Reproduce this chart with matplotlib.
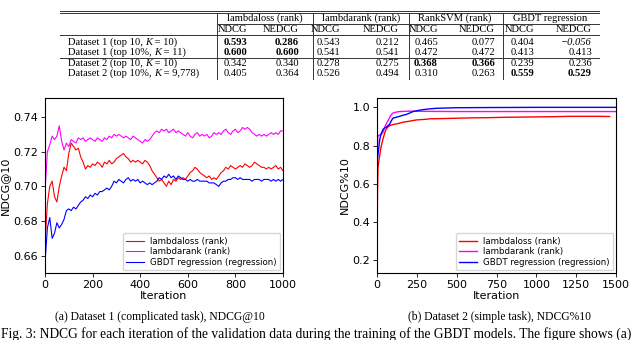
import numpy as np
import matplotlib
matplotlib.use('Agg')
import matplotlib.pyplot as plt
from matplotlib.lines import Line2D

plt.rcParams['axes.linewidth'] = 0.8

W, H = 640, 340
SERIF = 'Liberation Serif'

# ---- table data ----
groups = ['lambdaloss (rank)', 'lambdarank (rank)', 'RankSVM (rank)', 'GBDT regression']
sub_cols = ['NDCG', 'NEDCG']
# the K in each label is set in italic
row_labels = ['Dataset 1 (top 10, K = 10)',
              'Dataset 1 (top 10%, K = 11)',
              'Dataset 2 (top 10, K = 10)',
              'Dataset 2 (top 10%, K = 9,778)']
table_vals = [
    [0.593, 0.286, 0.543, 0.212, 0.465, 0.077, 0.404, -0.056],
    [0.600, 0.600, 0.541, 0.541, 0.472, 0.472, 0.413, 0.413],
    [0.342, 0.340, 0.278, 0.275, 0.368, 0.366, 0.239, 0.236],
    [0.405, 0.364, 0.526, 0.494, 0.310, 0.263, 0.559, 0.529],
]

# ---- (a) dataset 1, NDCG@10 ----
it1 = np.arange(0, 1001, 10)
lambdaloss_1 = [
    0.667, 0.690, 0.700, 0.703, 0.694, 0.691, 0.700, 0.706, 0.711, 0.709,
    0.719, 0.725, 0.723, 0.721, 0.722, 0.717, 0.714, 0.710, 0.712, 0.711,
    0.713, 0.712, 0.714, 0.713, 0.711, 0.714, 0.713, 0.715, 0.713, 0.714,
    0.716, 0.717, 0.718, 0.719, 0.717, 0.716, 0.714, 0.715, 0.714, 0.715,
    0.714, 0.713, 0.715, 0.714, 0.712, 0.709, 0.707, 0.705, 0.703, 0.704,
    0.702, 0.700, 0.703, 0.701, 0.704, 0.703, 0.705, 0.704, 0.705, 0.704,
    0.706, 0.708, 0.709, 0.711, 0.710, 0.708, 0.707, 0.706, 0.705, 0.706,
    0.704, 0.705, 0.704, 0.706, 0.708, 0.709, 0.711, 0.710, 0.712, 0.711,
    0.710, 0.711, 0.712, 0.711, 0.713, 0.712, 0.711, 0.712, 0.714, 0.713,
    0.712, 0.711, 0.711, 0.710, 0.711, 0.710, 0.711, 0.712, 0.710, 0.711,
    0.709]
lambdarank_1 = [
    0.697, 0.720, 0.724, 0.729, 0.727, 0.729, 0.735, 0.726, 0.721, 0.725,
    0.723, 0.727, 0.726, 0.725, 0.728, 0.727, 0.728, 0.726, 0.727, 0.728,
    0.727, 0.726, 0.728, 0.727, 0.726, 0.728, 0.727, 0.729, 0.728, 0.730,
    0.729, 0.730, 0.729, 0.728, 0.729, 0.728, 0.727, 0.729, 0.728, 0.727,
    0.726, 0.725, 0.727, 0.726, 0.727, 0.729, 0.731, 0.732, 0.731, 0.733,
    0.732, 0.733, 0.731, 0.732, 0.733, 0.731, 0.732, 0.731, 0.730, 0.729,
    0.731, 0.729, 0.728, 0.730, 0.731, 0.729, 0.730, 0.729, 0.730, 0.728,
    0.729, 0.731, 0.730, 0.731, 0.730, 0.732, 0.733, 0.731, 0.730, 0.732,
    0.733, 0.731, 0.732, 0.734, 0.733, 0.734, 0.733, 0.731, 0.730, 0.729,
    0.730, 0.729, 0.730, 0.729, 0.730, 0.731, 0.730, 0.731, 0.730, 0.732,
    0.732]
gbdt_1 = [
    0.656, 0.676, 0.682, 0.670, 0.673, 0.679, 0.676, 0.678, 0.681, 0.686,
    0.687, 0.686, 0.688, 0.687, 0.689, 0.691, 0.692, 0.694, 0.693, 0.695,
    0.694, 0.696, 0.695, 0.697, 0.697, 0.698, 0.699, 0.698, 0.700, 0.703,
    0.702, 0.704, 0.703, 0.702, 0.704, 0.705, 0.703, 0.704, 0.703, 0.704,
    0.702, 0.703, 0.702, 0.701, 0.702, 0.701, 0.702, 0.703, 0.705, 0.704,
    0.706, 0.705, 0.707, 0.705, 0.706, 0.704, 0.706, 0.705, 0.704, 0.704,
    0.703, 0.704, 0.703, 0.703, 0.704, 0.703, 0.703, 0.703, 0.703, 0.702,
    0.702, 0.702, 0.701, 0.700, 0.702, 0.703, 0.703, 0.704, 0.704, 0.705,
    0.705, 0.704, 0.705, 0.704, 0.704, 0.704, 0.704, 0.703, 0.704, 0.704,
    0.704, 0.703, 0.704, 0.704, 0.704, 0.703, 0.704, 0.703, 0.704, 0.703,
    0.704]

# ---- (b) dataset 2, NDCG%10 ----
it_loss_2 = [0, 3, 6, 10, 17, 25, 38, 50, 59, 70, 80, 100, 121, 140, 163, 200,
             247, 300, 331, 400, 498, 600, 700, 808, 900, 1000, 1100, 1210, 1300, 1400, 1460]
lambdaloss_2 = [0.17, 0.55, 0.68, 0.71, 0.749, 0.79, 0.836, 0.87, 0.888, 0.898, 0.905,
                0.91, 0.913, 0.917, 0.922, 0.927, 0.934, 0.937, 0.94, 0.941, 0.943,
                0.945, 0.946, 0.948, 0.949, 0.95, 0.951, 0.953, 0.953, 0.953, 0.952]
it_rank_2 = [0, 2, 5, 10, 20, 30, 38, 50, 59, 70, 80, 90, 100, 120, 142, 170, 205,
             300, 500, 800, 1100, 1500]
lambdarank_2 = [0.16, 0.80, 0.845, 0.853, 0.856, 0.86, 0.87, 0.90, 0.915, 0.932, 0.948,
                0.962, 0.970, 0.975, 0.978, 0.979, 0.980, 0.979, 0.978, 0.978, 0.978, 0.978]
it_gbdt_2 = [0, 5, 10, 17, 25, 38, 50, 59, 70, 80, 90, 100, 120, 142, 160, 184, 205,
             226, 260, 289, 330, 373, 450, 498, 700, 1000, 1500]
gbdt_2 = [0.72, 0.745, 0.78, 0.83, 0.86, 0.885, 0.893, 0.896, 0.905, 0.913, 0.93,
          0.943, 0.948, 0.953, 0.958, 0.963, 0.970, 0.978, 0.984, 0.988, 0.992,
          0.995, 0.997, 0.998, 0.999, 1.0, 1.0]

legend_labels = ['lambdaloss (rank)', 'lambdarank (rank)', 'GBDT regression (regression)']
colors = ['red', 'magenta', 'blue']

fig = plt.figure(figsize=(6.4, 3.4), dpi=100)
renderer = fig.canvas.get_renderer()


def fx(px):
    return px / W


def fy(py):
    return 1 - py / H


def hline(y, x0, x1, lw=0.7):
    fig.add_artist(Line2D([fx(x0), fx(x1)], [fy(y), fy(y)], lw=lw, color='#333333'))


def vline(x, y0, y1, lw=0.7):
    fig.add_artist(Line2D([fx(x), fx(x)], [fy(y0), fy(y1)], lw=lw, color='#333333'))


# ---- table ----
tab_l, tab_r = 60, 599
vlines_x = [217, 313, 408.5, 502.5]
group_cx = [265, 361, 455, 550]
col_right = [247, 299, 340, 399, 438, 495, 534, 592]
row_y = [42.3, 52.3, 63.3, 73.3]
fs_tab = 7.6

hline(11, tab_l, tab_r)
hline(13.3, tab_l, tab_r)
hline(24, vlines_x[0], tab_r)
hline(35, tab_l, tab_r)
hline(57.7, tab_l, tab_r)
for x in vlines_x:
    vline(x, 13.3, 79)

for g, cx in zip(groups, group_cx):
    fig.text(fx(cx), fy(18.3), g, ha='center', va='center', family=SERIF, fontsize=fs_tab)
for j, xr in enumerate(col_right):
    fig.text(fx(xr), fy(29.3), sub_cols[j % 2], ha='right', va='center', family=SERIF, fontsize=fs_tab)

for i, (lab, vals) in enumerate(zip(row_labels, table_vals)):
    # label in three pieces so that K can be italic
    pre, suf = lab.split('K')
    xpos = 68
    for piece, st in [(pre, 'normal'), ('K', 'italic'), (suf, 'normal')]:
        t = fig.text(fx(xpos), fy(row_y[i]), piece, ha='left', va='center',
                     family=SERIF, fontsize=fs_tab, fontstyle=st)
        xpos = t.get_window_extent(renderer).x1
    best = int(np.argmax(vals[0::2]))
    for j, v in enumerate(vals):
        weight = 'bold' if j // 2 == best else 'normal'
        style = 'italic' if v < 0 else 'normal'
        txt = '{:.3f}'.format(v).replace('-', '\u2212')
        fig.text(fx(col_right[j]), fy(row_y[i]), txt, ha='right', va='center',
                 family=SERIF, fontsize=fs_tab, fontweight=weight, fontstyle=style)

# ---- left plot ----
ax1 = fig.add_axes([fx(45), fy(273), (283 - 45) / W, (273 - 98) / H])
ax1.plot(it1, lambdaloss_1, color=colors[0], lw=0.8, label=legend_labels[0])
ax1.plot(it1, lambdarank_1, color=colors[1], lw=0.8, label=legend_labels[1])
ax1.plot(it1, gbdt_1, color=colors[2], lw=0.8, label=legend_labels[2])
ax1.set_xlim(0, 1000)
ax1.set_ylim(0.650, 0.751)
ax1.set_xticks([0, 200, 400, 600, 800, 1000])
ax1.set_yticks([0.66, 0.68, 0.70, 0.72, 0.74])
ax1.set_xlabel('Iteration', fontsize=8, labelpad=1)
ax1.set_ylabel('NDCG@10', fontsize=8, labelpad=2)
ax1.tick_params(labelsize=8, length=3, width=0.6, pad=2)
ax1.legend(loc='lower right', fontsize=6.2, handlelength=2.0, borderpad=0.4,
           labelspacing=0.2, borderaxespad=0.3)

# ---- right plot ----
ax2 = fig.add_axes([fx(377), fy(273), (616 - 377) / W, (273 - 98) / H])
ax2.plot(it_loss_2, lambdaloss_2, color=colors[0], lw=1.0, label=legend_labels[0])
ax2.plot(it_rank_2, lambdarank_2, color=colors[1], lw=1.0, label=legend_labels[1])
ax2.plot(it_gbdt_2, gbdt_2, color=colors[2], lw=1.0, label=legend_labels[2])
ax2.set_xlim(0, 1500)
ax2.set_ylim(0.132, 1.049)
ax2.set_xticks([0, 250, 500, 750, 1000, 1250, 1500])
ax2.set_yticks([0.2, 0.4, 0.6, 0.8, 1.0])
ax2.set_xlabel('Iteration', fontsize=8, labelpad=1)
ax2.set_ylabel('NDCG%10', fontsize=8, labelpad=2)
ax2.tick_params(labelsize=8, length=3, width=0.6, pad=2)
ax2.legend(loc='lower right', fontsize=6.2, handlelength=2.0, borderpad=0.4,
           labelspacing=0.2, borderaxespad=0.3)

# ---- captions ----
fig.text(fx(160), fy(317), '(a) Dataset 1 (complicated task), NDCG@10', ha='center', va='center',
         family=SERIF, fontsize=8.4)
fig.text(fx(499), fy(317), '(b) Dataset 2 (simple task), NDCG%10', ha='center', va='center',
         family=SERIF, fontsize=8.4)
cap = fig.text(fx(1), fy(334), 'Fig. 3: NDCG for each iteration of the validation data during the '
               'training of the GBDT models. The figure shows (a)', ha='left', va='center',
               family=SERIF, fontsize=8.4)
bb = cap.get_window_extent(renderer)
cap.set_fontsize(8.4 * 630 / bb.width)

fig.savefig('out.png', dpi=100)
